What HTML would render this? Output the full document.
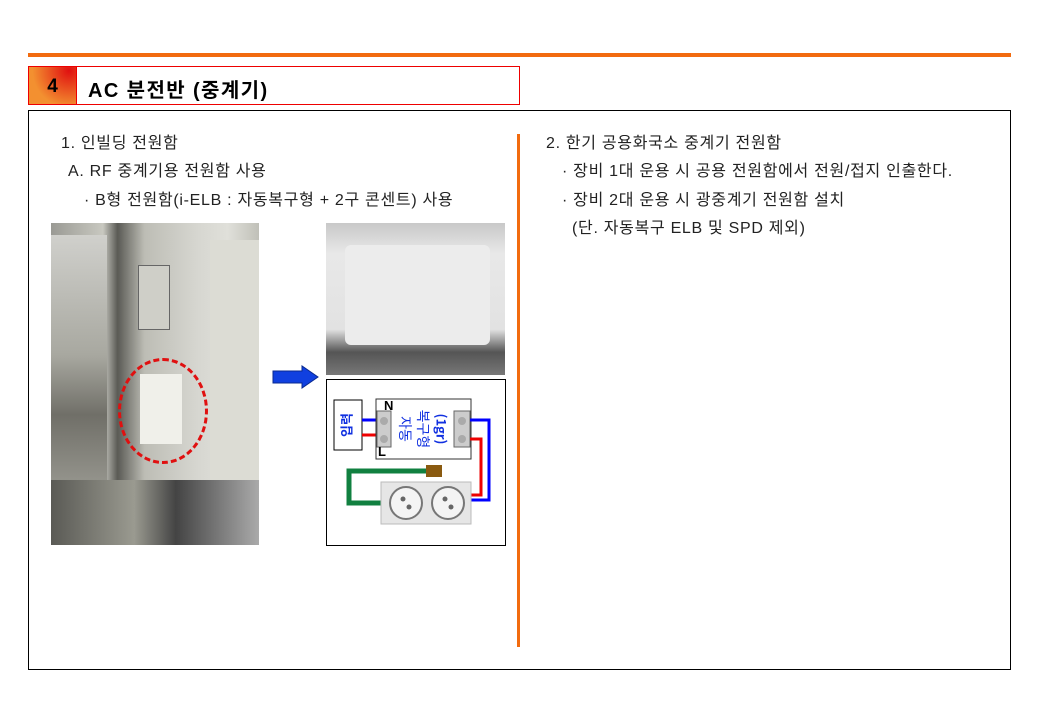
<!DOCTYPE html>
<html><head><meta charset="utf-8"><style>
*{margin:0;padding:0;box-sizing:border-box}
body{width:1040px;height:720px;background:#fff;position:relative;font-family:"Liberation Sans","Noto Sans CJK KR",sans-serif;overflow:hidden}
.a{position:absolute}
.t{font-size:16px;letter-spacing:0.7px;color:#222;white-space:nowrap}
</style></head><body>
<div class="a" style="left:28px;top:53px;width:983px;height:4px;background:#f26b0f"></div>
<div class="a" style="left:28px;top:66px;width:492px;height:39px;border:1px solid #e00"></div>
<div class="a" style="left:29px;top:67px;width:48px;height:37px;background:radial-gradient(circle at 85% 10%,#e01010,#f39030 70%);border-right:1px solid #e00;font-weight:bold;font-size:19px;text-align:center;line-height:40px">4</div>
<div class="a" style="left:88px;top:74px;font-weight:bold;font-size:20px;letter-spacing:1.4px">AC 분전반 (중계기)</div>
<div class="a" style="left:28px;top:110px;width:983px;height:560px;border:1px solid #000"></div>
<div class="a" style="left:517px;top:134px;width:3px;height:513px;background:#f26b0f"></div>
<div class="a t" style="left:61px;top:129px">1. 인빌딩 전원함</div>
<div class="a t" style="left:68px;top:157px">A. RF 중계기용 전원함 사용</div>
<div class="a t" style="left:84px;top:186px">· B형 전원함(i-ELB : 자동복구형 + 2구 콘센트) 사용</div>
<div class="a t" style="left:546px;top:129px">2. 한기 공용화국소 중계기 전원함</div>
<div class="a t" style="left:562px;top:157px">· 장비 1대 운용 시 공용 전원함에서 전원/접지 인출한다.</div>
<div class="a t" style="left:562px;top:186px">· 장비 2대 운용 시 광중계기 전원함 설치</div>
<div class="a t" style="left:572px;top:214px">(단. 자동복구 ELB 및 SPD 제외)</div>
<!-- left photo -->
<div class="a" style="left:51px;top:223px;width:208px;height:322px;background:linear-gradient(90deg,#9a9a94 0%,#c8c8c0 25%,#5a5a55 32%,#bdbdb5 45%,#d6d6d0 70%,#e0e0da 85%,#c0c0b8 100%)"></div>
<div class="a" style="left:51px;top:235px;width:56px;height:300px;background:linear-gradient(#d0d0cc,#a8a8a0 40%,#706f68 60%,#b0b0a8)"></div>
<div class="a" style="left:210px;top:240px;width:49px;height:300px;background:#dcdcd4"></div>
<div class="a" style="left:138px;top:265px;width:32px;height:65px;background:#cfcfc8;border:1px solid #666"></div>
<div class="a" style="left:140px;top:374px;width:42px;height:70px;background:#f0f0ea"></div>
<div class="a" style="left:51px;top:480px;width:208px;height:65px;background:linear-gradient(90deg,#5a5a55,#9a9a90 40%,#444 60%,#aaa)"></div>
<div class="a" style="left:118px;top:358px;width:90px;height:106px;border:3px dashed #e01010;border-radius:50%"></div>
<!-- arrow -->
<svg class="a" style="left:272px;top:365px" width="48" height="24"><polygon points="1,6 30,6 30,1 46,12 30,23 30,18 1,18" fill="#1040e0" stroke="#0a2a90"/></svg>
<!-- top right photo -->
<div class="a" style="left:326px;top:223px;width:179px;height:152px;background:linear-gradient(#c8c8c8,#e8e8e8 20%,#e2e2e2 70%,#555 85%,#777)"></div>
<div class="a" style="left:345px;top:245px;width:145px;height:100px;background:#ececec;border-radius:6px"></div>
<!-- diagram -->
<div class="a" style="left:326px;top:379px;width:180px;height:167px;border:1px solid #000"></div>
<svg class="a" style="left:326px;top:379px" width="180" height="167" font-family="Noto Sans CJK KR">
<rect x="8" y="21" width="28" height="50" fill="#fff" stroke="#000"/>
<text x="22" y="46" font-size="13" fill="#1030e0" font-weight="bold" text-anchor="middle" dominant-baseline="middle" transform="rotate(-90 22 46)">입력</text>
<path d="M36 41H52" stroke="#00f" stroke-width="3"/>
<path d="M36 56H52" stroke="#e00" stroke-width="3"/>
<rect x="50" y="20" width="95" height="60" fill="#fff" stroke="#333"/>
<rect x="51" y="32" width="14" height="36" fill="#ccc" stroke="#666"/>
<circle cx="58" cy="42" r="4" fill="#aaa"/><circle cx="58" cy="60" r="4" fill="#aaa"/>
<rect x="128" y="32" width="16" height="36" fill="#ccc" stroke="#666"/>
<circle cx="136" cy="42" r="4" fill="#aaa"/><circle cx="136" cy="60" r="4" fill="#aaa"/>
<text x="58" y="31" font-size="13" font-weight="bold" font-family="Liberation Sans">N</text>
<text x="52" y="77" font-size="13" font-weight="bold" font-family="Liberation Sans">L</text>
<text x="78" y="50" font-size="14" fill="#1030e0" text-anchor="middle" dominant-baseline="middle" transform="rotate(90 78 50)">자동</text>
<text x="96" y="50" font-size="14" fill="#1030e0" text-anchor="middle" dominant-baseline="middle" transform="rotate(90 96 50)">복구형</text>
<text x="114" y="50" font-size="13" fill="#1030e0" font-weight="bold" text-anchor="middle" dominant-baseline="middle" transform="rotate(90 114 50)">(1gr)</text>
<path d="M144 41H163V121H144" stroke="#00f" stroke-width="3" fill="none"/>
<path d="M144 60H155V116H144" stroke="#e00" stroke-width="3" fill="none"/>
<rect x="100" y="86" width="16" height="12" fill="#8a5a10"/>
<path d="M100 92H23V124H55" stroke="#118040" stroke-width="5" fill="none"/>
<rect x="55" y="103" width="90" height="42" fill="#e6e6e6" stroke="#bbb"/>
<circle cx="80" cy="124" r="16" fill="#f4f4f4" stroke="#777" stroke-width="2"/>
<circle cx="122" cy="124" r="16" fill="#f4f4f4" stroke="#777" stroke-width="2"/>
<circle cx="77" cy="120" r="2.5" fill="#666"/><circle cx="83" cy="128" r="2.5" fill="#666"/>
<circle cx="119" cy="120" r="2.5" fill="#666"/><circle cx="125" cy="128" r="2.5" fill="#666"/>
</svg>
</body></html>
